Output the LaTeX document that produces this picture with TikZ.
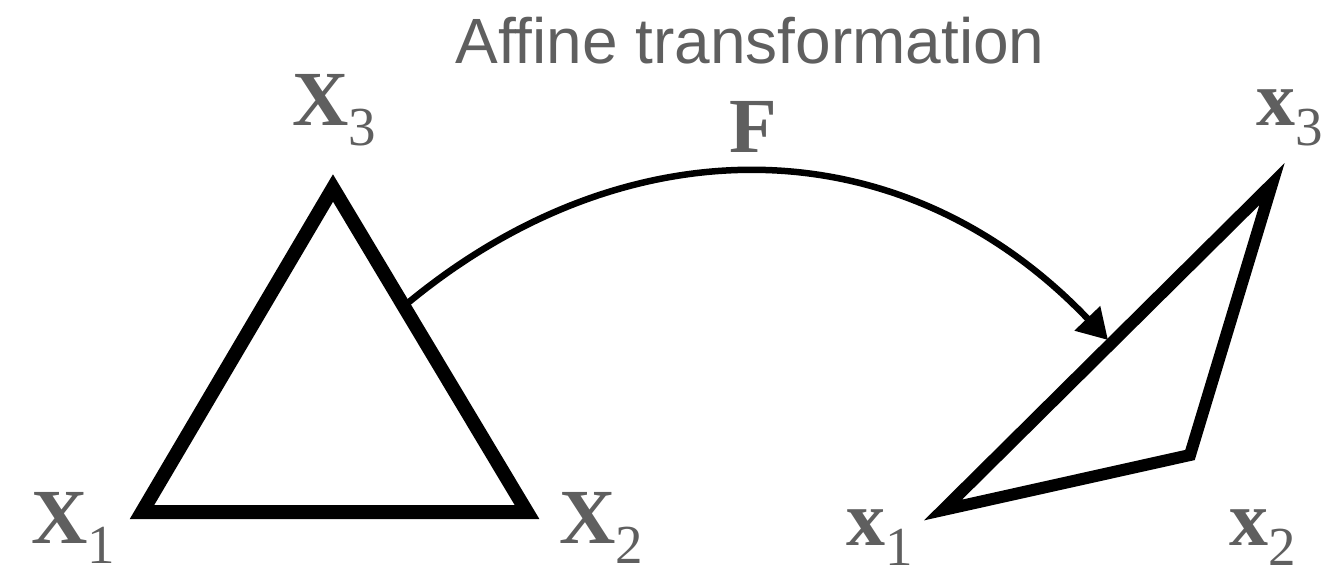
\documentclass[tikz,border=0pt]{standalone}
\usepackage{fontspec}
\setmainfont{Liberation Serif}
\newfontfamily\titlefont{Liberation Sans}
\usetikzlibrary{arrows.meta}
\definecolor{labgray}{RGB}{95,95,95}
\tikzset{
  outline/.style={line width=14pt, line join=miter, miter limit=20},
  lab/.style={text=labgray, inner sep=0pt, anchor=base west, font=\fontsize{78}{80}\selectfont\bfseries},
  arr/.style={line width=6.5pt, -{Triangle[length=30pt,width=34pt]}}
}
\newcommand{\mysub}[1]{\raisebox{-20pt}{\fontsize{55}{55}\selectfont\mdseries #1}}
\begin{document}
\begin{tikzpicture}[x=1pt,y=-1pt]
\useasboundingbox (0,0) rectangle (1322,571);
% left triangle
\coordinate (A1) at (142,512);
\coordinate (A2) at (527,512);
\coordinate (A3) at (333,188);
\draw[outline] (A1) -- (A2) -- (A3) -- cycle;
% right triangle
\coordinate (B1) at (943,510);
\coordinate (B2) at (1190,455);
\coordinate (B3) at (1272,184);
\draw[outline, line width=12pt] (B1) -- (B2) -- (B3) -- cycle;
% labels
\node[lab] (lX3) at (292,125) {X\mysub{3}};
\node[lab] (lX1) at (31,543) {X\mysub{1}};
\node[lab] (lX2) at (559,543) {X\mysub{2}};
\node[lab] (lx1) at (846,545) {x\mysub{1}};
\node[lab] (lx2) at (1229,545) {x\mysub{2}};
\node[lab] (lx3) at (1256,125) {x\mysub{3}};
\node[lab] (lF) at (729,152) {F};
\node[text=labgray, inner sep=0pt, anchor=base, font=\titlefont\fontsize{64}{66}\selectfont] (title) at (750,63) {Affine transformation};
% arrow
\coordinate (s) at (403,307);
\coordinate (e) at (1108,340);
\draw[arr] (s) .. controls (623,122) and (900,122) .. (e);
\end{tikzpicture}
\end{document}
